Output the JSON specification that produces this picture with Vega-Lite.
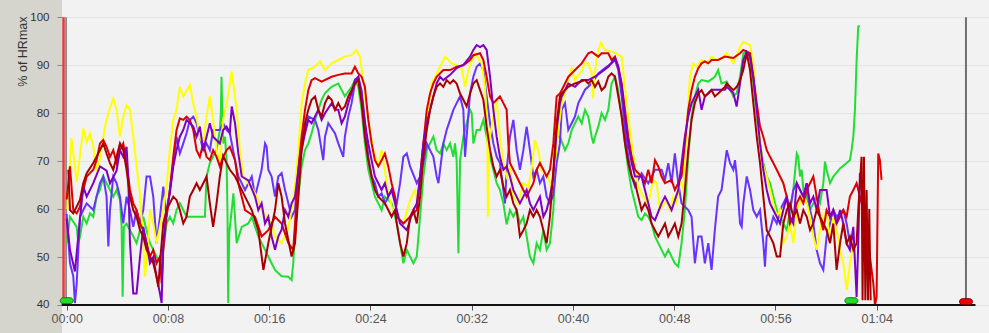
{
"$schema": "https://vega.github.io/schema/vega-lite/v6.json",
"width": 927, "height": 333,
"autosize": {"type": "none"},
"padding": {"left": 62, "top": 0, "right": 0, "bottom": 0},
"background": "#d5d5ce",
"config": {"view": {"fill": "#f2f2f2", "stroke": null}},
"datasets": {"hr": [
{"s":"G","t":0.0,"v":52.9},{"s":"G","t":0.26,"v":58.4},{"s":"G","t":0.79,"v":56.3},{"s":"G","t":0.92,"v":52.9},{"s":"G","t":1.05,"v":54.3},{"s":"G","t":1.31,"v":58.4},{"s":"G","t":1.58,"v":57},{"s":"G","t":1.84,"v":59.1},{"s":"G","t":2.1,"v":58.4},{"s":"G","t":2.36,"v":62.6},{"s":"G","t":2.63,"v":64},{"s":"G","t":2.89,"v":66.8},{"s":"G","t":3.15,"v":65.4},{"s":"G","t":3.42,"v":64},{"s":"G","t":3.68,"v":62.6},{"s":"G","t":3.94,"v":64},{"s":"G","t":4.21,"v":61.9},{"s":"G","t":4.34,"v":56.3},{"s":"G","t":4.42,"v":41.7},{"s":"G","t":4.52,"v":56.3},{"s":"G","t":4.73,"v":57},{"s":"G","t":5.0,"v":55.6},{"s":"G","t":5.26,"v":54.3},{"s":"G","t":5.52,"v":52.9},{"s":"G","t":5.79,"v":55.6},{"s":"G","t":6.05,"v":58.4},{"s":"G","t":6.31,"v":55.6},{"s":"G","t":6.58,"v":52.9},{"s":"G","t":6.84,"v":51.5},{"s":"G","t":7.1,"v":50.1},{"s":"G","t":7.37,"v":48.7},{"s":"G","t":7.63,"v":51.5},{"s":"G","t":7.89,"v":57},{"s":"G","t":8.15,"v":58.4},{"s":"G","t":8.42,"v":57},{"s":"G","t":8.68,"v":59.8},{"s":"G","t":8.94,"v":61.2},{"s":"G","t":9.21,"v":59.8},{"s":"G","t":9.47,"v":58.4},{"s":"G","t":10.92,"v":58.4},{"s":"G","t":11.05,"v":66.8},{"s":"G","t":11.31,"v":69.6},{"s":"G","t":11.57,"v":71},{"s":"G","t":11.84,"v":72.3},{"s":"G","t":12.1,"v":76.5},{"s":"G","t":12.18,"v":80},{"s":"G","t":12.23,"v":87.6},{"s":"G","t":12.31,"v":78},{"s":"G","t":12.36,"v":73.7},{"s":"G","t":12.51,"v":75.1},{"s":"G","t":12.63,"v":70.2},{"s":"G","t":12.7,"v":60},{"s":"G","t":12.76,"v":40.4},{"s":"G","t":12.84,"v":55},{"s":"G","t":13.04,"v":59.8},{"s":"G","t":13.17,"v":63.3},{"s":"G","t":13.43,"v":52.9},{"s":"G","t":13.83,"v":56.3},{"s":"G","t":14.35,"v":57},{"s":"G","t":14.62,"v":58.4},{"s":"G","t":15.14,"v":54.3},{"s":"G","t":15.67,"v":51.5},{"s":"G","t":16.19,"v":48.7},{"s":"G","t":16.46,"v":47.3},{"s":"G","t":16.98,"v":46},{"s":"G","t":17.51,"v":45.9},{"s":"G","t":17.77,"v":45.2},{"s":"G","t":17.9,"v":48.7},{"s":"G","t":18.04,"v":55.6},{"s":"G","t":18.3,"v":62.6},{"s":"G","t":18.56,"v":68.9},{"s":"G","t":18.83,"v":72.3},{"s":"G","t":19.09,"v":73.7},{"s":"G","t":19.35,"v":75.8},{"s":"G","t":19.62,"v":78.6},{"s":"G","t":19.88,"v":80.7},{"s":"G","t":20.14,"v":82.8},{"s":"G","t":20.41,"v":84.2},{"s":"G","t":20.93,"v":85.5},{"s":"G","t":21.46,"v":86.2},{"s":"G","t":21.98,"v":83.5},{"s":"G","t":22.51,"v":85.5},{"s":"G","t":22.77,"v":86.9},{"s":"G","t":23.04,"v":85.5},{"s":"G","t":23.3,"v":80.7},{"s":"G","t":23.56,"v":73.7},{"s":"G","t":23.83,"v":68.2},{"s":"G","t":24.09,"v":65.4},{"s":"G","t":24.35,"v":62.6},{"s":"G","t":24.62,"v":61.2},{"s":"G","t":24.88,"v":59.8},{"s":"G","t":25.14,"v":62.6},{"s":"G","t":25.67,"v":61.2},{"s":"G","t":26.08,"v":57},{"s":"G","t":26.34,"v":52.9},{"s":"G","t":26.6,"v":48.7},{"s":"G","t":26.87,"v":51.5},{"s":"G","t":27.13,"v":50.1},{"s":"G","t":27.39,"v":48.7},{"s":"G","t":27.66,"v":50.1},{"s":"G","t":27.92,"v":58.4},{"s":"G","t":28.18,"v":66.8},{"s":"G","t":28.45,"v":72.3},{"s":"G","t":28.71,"v":73.7},{"s":"G","t":28.97,"v":75.1},{"s":"G","t":29.23,"v":72.3},{"s":"G","t":29.5,"v":71.6},{"s":"G","t":29.76,"v":73.7},{"s":"G","t":30.02,"v":72.3},{"s":"G","t":30.29,"v":73.7},{"s":"G","t":30.55,"v":70.9},{"s":"G","t":30.68,"v":73.7},{"s":"G","t":30.81,"v":70.2},{"s":"G","t":30.95,"v":50.8},{"s":"G","t":31.08,"v":70.2},{"s":"G","t":31.34,"v":75.1},{"s":"G","t":31.6,"v":77.9},{"s":"G","t":31.87,"v":80.7},{"s":"G","t":32.0,"v":80},{"s":"G","t":32.13,"v":73.7},{"s":"G","t":32.39,"v":76.5},{"s":"G","t":32.66,"v":76.5},{"s":"G","t":32.92,"v":78.6},{"s":"G","t":33.18,"v":75.1},{"s":"G","t":33.45,"v":70.9},{"s":"G","t":33.71,"v":68.2},{"s":"G","t":33.97,"v":65.4},{"s":"G","t":34.23,"v":64},{"s":"G","t":34.5,"v":61.2},{"s":"G","t":34.76,"v":56.8},{"s":"G","t":35.02,"v":59.8},{"s":"G","t":35.29,"v":58.4},{"s":"G","t":35.55,"v":59.8},{"s":"G","t":35.81,"v":57},{"s":"G","t":36.08,"v":58.4},{"s":"G","t":36.34,"v":54.3},{"s":"G","t":36.6,"v":50.1},{"s":"G","t":36.87,"v":48.7},{"s":"G","t":37.13,"v":52.9},{"s":"G","t":37.39,"v":51.5},{"s":"G","t":37.66,"v":55.6},{"s":"G","t":37.92,"v":51.5},{"s":"G","t":38.18,"v":52.9},{"s":"G","t":38.45,"v":59.8},{"s":"G","t":38.71,"v":75.1},{"s":"G","t":38.97,"v":75.1},{"s":"G","t":39.37,"v":72.3},{"s":"G","t":39.63,"v":73.7},{"s":"G","t":39.9,"v":76.5},{"s":"G","t":40.16,"v":77.9},{"s":"G","t":40.42,"v":79.3},{"s":"G","t":40.69,"v":77.9},{"s":"G","t":40.95,"v":80.7},{"s":"G","t":41.21,"v":79.3},{"s":"G","t":41.48,"v":75.1},{"s":"G","t":41.61,"v":73.7},{"s":"G","t":41.74,"v":75.1},{"s":"G","t":42.0,"v":77.2},{"s":"G","t":42.26,"v":80},{"s":"G","t":42.53,"v":78.6},{"s":"G","t":42.79,"v":80.7},{"s":"G","t":43.05,"v":86.2},{"s":"G","t":43.32,"v":87.6},{"s":"G","t":43.58,"v":84.8},{"s":"G","t":43.85,"v":79.3},{"s":"G","t":44.11,"v":73.7},{"s":"G","t":44.37,"v":68.2},{"s":"G","t":44.64,"v":64},{"s":"G","t":44.9,"v":61.2},{"s":"G","t":45.16,"v":58.4},{"s":"G","t":45.42,"v":57.7},{"s":"G","t":45.69,"v":59.1},{"s":"G","t":45.95,"v":58.4},{"s":"G","t":46.21,"v":57},{"s":"G","t":46.48,"v":54.3},{"s":"G","t":46.74,"v":52.9},{"s":"G","t":47.0,"v":51.5},{"s":"G","t":47.27,"v":50.1},{"s":"G","t":47.53,"v":51.5},{"s":"G","t":47.79,"v":50.1},{"s":"G","t":48.05,"v":48.7},{"s":"G","t":48.32,"v":48},{"s":"G","t":48.58,"v":52.9},{"s":"G","t":48.84,"v":59.8},{"s":"G","t":49.11,"v":71},{"s":"G","t":49.37,"v":79.3},{"s":"G","t":49.63,"v":83.5},{"s":"G","t":49.9,"v":86.2},{"s":"G","t":50.16,"v":86.9},{"s":"G","t":50.69,"v":86.6},{"s":"G","t":51.21,"v":87.6},{"s":"G","t":51.47,"v":89},{"s":"G","t":51.74,"v":86.2},{"s":"G","t":52.15,"v":86.6},{"s":"G","t":52.67,"v":83.5},{"s":"G","t":52.94,"v":84.2},{"s":"G","t":53.2,"v":87.6},{"s":"G","t":53.46,"v":92.5},{"s":"G","t":53.73,"v":92.8},{"s":"G","t":53.99,"v":91.1},{"s":"G","t":54.25,"v":86.2},{"s":"G","t":54.52,"v":79.3},{"s":"G","t":54.78,"v":73.7},{"s":"G","t":55.04,"v":69.6},{"s":"G","t":55.31,"v":66.8},{"s":"G","t":55.57,"v":65.4},{"s":"G","t":55.83,"v":62.6},{"s":"G","t":56.1,"v":59.8},{"s":"G","t":56.36,"v":58.4},{"s":"G","t":56.62,"v":57},{"s":"G","t":56.89,"v":55.6},{"s":"G","t":57.15,"v":59.8},{"s":"G","t":57.41,"v":64},{"s":"G","t":57.68,"v":71.6},{"s":"G","t":57.8,"v":70.9},{"s":"G","t":57.94,"v":66.8},{"s":"G","t":58.07,"v":68.2},{"s":"G","t":58.2,"v":64},{"s":"G","t":58.47,"v":62.6},{"s":"G","t":58.73,"v":59.8},{"s":"G","t":58.99,"v":61.2},{"s":"G","t":59.25,"v":62.6},{"s":"G","t":59.52,"v":61.2},{"s":"G","t":59.78,"v":65.4},{"s":"G","t":59.91,"v":69.9},{"s":"G","t":60.04,"v":68.2},{"s":"G","t":60.31,"v":65.4},{"s":"G","t":60.57,"v":66.8},{"s":"G","t":61.1,"v":68.5},{"s":"G","t":61.62,"v":69.6},{"s":"G","t":61.88,"v":70.2},{"s":"G","t":62.01,"v":72.3},{"s":"G","t":62.15,"v":75.1},{"s":"G","t":62.28,"v":80.7},{"s":"G","t":62.41,"v":91.1},{"s":"G","t":62.54,"v":98.1},{"s":"G","t":62.67,"v":98.2},
{"s":"B","t":0.0,"v":59},{"s":"B","t":0.26,"v":48.7},{"s":"B","t":0.52,"v":46},{"s":"B","t":0.65,"v":40.4},{"s":"B","t":0.79,"v":44.5},{"s":"B","t":0.92,"v":51.5},{"s":"B","t":1.05,"v":58.4},{"s":"B","t":1.31,"v":59.8},{"s":"B","t":1.58,"v":61.2},{"s":"B","t":2.1,"v":59.8},{"s":"B","t":2.36,"v":62.6},{"s":"B","t":2.63,"v":65.4},{"s":"B","t":2.89,"v":66.8},{"s":"B","t":3.15,"v":62.6},{"s":"B","t":3.29,"v":52.2},{"s":"B","t":3.42,"v":59.8},{"s":"B","t":3.68,"v":66.8},{"s":"B","t":3.94,"v":65.4},{"s":"B","t":4.21,"v":62.6},{"s":"B","t":4.47,"v":57},{"s":"B","t":4.73,"v":62.6},{"s":"B","t":5.0,"v":59.8},{"s":"B","t":5.26,"v":56.3},{"s":"B","t":5.52,"v":59.8},{"s":"B","t":5.79,"v":57},{"s":"B","t":6.05,"v":59.8},{"s":"B","t":6.31,"v":66.8},{"s":"B","t":6.58,"v":66.8},{"s":"B","t":6.84,"v":62.6},{"s":"B","t":7.1,"v":52.9},{"s":"B","t":7.37,"v":58.4},{"s":"B","t":7.63,"v":64.7},{"s":"B","t":7.89,"v":58.4},{"s":"B","t":8.15,"v":64},{"s":"B","t":8.42,"v":69.6},{"s":"B","t":8.68,"v":75.1},{"s":"B","t":8.94,"v":71.6},{"s":"B","t":9.21,"v":73.7},{"s":"B","t":9.47,"v":75.8},{"s":"B","t":9.73,"v":78.6},{"s":"B","t":10.0,"v":79.3},{"s":"B","t":10.26,"v":77.9},{"s":"B","t":10.52,"v":75.1},{"s":"B","t":10.79,"v":72.3},{"s":"B","t":11.05,"v":73.7},{"s":"B","t":11.31,"v":72.3},{"s":"B","t":11.57,"v":76.5},{"s":"B","t":12.1,"v":76.5},{"s":"B","t":12.36,"v":77.9},{"s":"B","t":12.63,"v":76.5},{"s":"B","t":12.89,"v":75.8},{"s":"B","t":13.3,"v":70.2},{"s":"B","t":13.56,"v":66.8},{"s":"B","t":14.09,"v":64},{"s":"B","t":14.62,"v":66.8},{"s":"B","t":14.88,"v":62.6},{"s":"B","t":15.14,"v":65.4},{"s":"B","t":15.4,"v":68.2},{"s":"B","t":15.67,"v":73.7},{"s":"B","t":15.8,"v":73},{"s":"B","t":15.93,"v":68.2},{"s":"B","t":16.19,"v":66.8},{"s":"B","t":16.46,"v":62.6},{"s":"B","t":16.72,"v":66.8},{"s":"B","t":16.98,"v":67.5},{"s":"B","t":17.25,"v":64},{"s":"B","t":17.51,"v":61.2},{"s":"B","t":17.77,"v":58.4},{"s":"B","t":18.04,"v":59.8},{"s":"B","t":18.3,"v":69.6},{"s":"B","t":18.56,"v":73.7},{"s":"B","t":18.83,"v":76.5},{"s":"B","t":19.09,"v":79.3},{"s":"B","t":19.62,"v":78.6},{"s":"B","t":19.88,"v":76.5},{"s":"B","t":20.14,"v":72.3},{"s":"B","t":20.27,"v":70.2},{"s":"B","t":20.41,"v":75.1},{"s":"B","t":20.67,"v":77.9},{"s":"B","t":21.2,"v":75.8},{"s":"B","t":21.46,"v":73.7},{"s":"B","t":21.85,"v":70.9},{"s":"B","t":21.98,"v":75.1},{"s":"B","t":22.25,"v":79.3},{"s":"B","t":22.51,"v":82.1},{"s":"B","t":22.77,"v":86.2},{"s":"B","t":23.04,"v":87.6},{"s":"B","t":23.3,"v":84.8},{"s":"B","t":23.56,"v":78.6},{"s":"B","t":23.83,"v":70.9},{"s":"B","t":24.09,"v":66.8},{"s":"B","t":24.35,"v":65.4},{"s":"B","t":24.62,"v":62.6},{"s":"B","t":24.88,"v":63.3},{"s":"B","t":25.14,"v":61.2},{"s":"B","t":25.67,"v":64},{"s":"B","t":26.08,"v":61.2},{"s":"B","t":26.34,"v":65.4},{"s":"B","t":26.6,"v":70.9},{"s":"B","t":26.87,"v":71.6},{"s":"B","t":27.13,"v":68.9},{"s":"B","t":27.66,"v":65.4},{"s":"B","t":27.92,"v":66.8},{"s":"B","t":28.18,"v":69.6},{"s":"B","t":28.45,"v":73.7},{"s":"B","t":28.71,"v":72.3},{"s":"B","t":28.97,"v":70.9},{"s":"B","t":29.23,"v":66.8},{"s":"B","t":29.37,"v":65.4},{"s":"B","t":29.5,"v":68.2},{"s":"B","t":29.76,"v":73.7},{"s":"B","t":30.02,"v":76.5},{"s":"B","t":30.29,"v":78.6},{"s":"B","t":30.55,"v":80.7},{"s":"B","t":30.81,"v":82.1},{"s":"B","t":31.08,"v":83.5},{"s":"B","t":31.34,"v":80.7},{"s":"B","t":31.47,"v":70.9},{"s":"B","t":31.6,"v":75.1},{"s":"B","t":31.87,"v":84.2},{"s":"B","t":32.13,"v":87.6},{"s":"B","t":32.39,"v":89.7},{"s":"B","t":32.66,"v":90.4},{"s":"B","t":32.92,"v":89},{"s":"B","t":33.18,"v":83.5},{"s":"B","t":33.45,"v":77.9},{"s":"B","t":33.71,"v":73.7},{"s":"B","t":33.97,"v":70.9},{"s":"B","t":34.23,"v":69.6},{"s":"B","t":34.5,"v":64},{"s":"B","t":34.63,"v":61.2},{"s":"B","t":34.76,"v":68.2},{"s":"B","t":35.02,"v":75.1},{"s":"B","t":35.29,"v":78.6},{"s":"B","t":35.55,"v":72.3},{"s":"B","t":35.81,"v":68.2},{"s":"B","t":36.08,"v":72.3},{"s":"B","t":36.34,"v":77.2},{"s":"B","t":36.6,"v":72.3},{"s":"B","t":36.87,"v":66.8},{"s":"B","t":37.13,"v":68.2},{"s":"B","t":37.39,"v":65.4},{"s":"B","t":37.66,"v":66.8},{"s":"B","t":37.92,"v":62.6},{"s":"B","t":38.18,"v":61.2},{"s":"B","t":38.45,"v":63},{"s":"B","t":38.71,"v":69.6},{"s":"B","t":38.97,"v":73.7},{"s":"B","t":39.11,"v":80.7},{"s":"B","t":39.37,"v":82.1},{"s":"B","t":39.63,"v":76.5},{"s":"B","t":39.9,"v":77.9},{"s":"B","t":40.16,"v":79.3},{"s":"B","t":40.42,"v":82.1},{"s":"B","t":40.69,"v":83.5},{"s":"B","t":40.95,"v":84.9},{"s":"B","t":41.48,"v":86.2},{"s":"B","t":42.0,"v":88.3},{"s":"B","t":42.53,"v":89.4},{"s":"B","t":43.05,"v":90.4},{"s":"B","t":43.32,"v":91.1},{"s":"B","t":43.58,"v":89},{"s":"B","t":43.85,"v":83.5},{"s":"B","t":44.11,"v":76.5},{"s":"B","t":44.37,"v":70.9},{"s":"B","t":44.64,"v":66.8},{"s":"B","t":44.9,"v":64.7},{"s":"B","t":45.42,"v":67.5},{"s":"B","t":45.95,"v":65.4},{"s":"B","t":46.48,"v":68.2},{"s":"B","t":47.0,"v":68.2},{"s":"B","t":47.27,"v":66.1},{"s":"B","t":47.53,"v":69.6},{"s":"B","t":47.79,"v":65.4},{"s":"B","t":48.05,"v":71.6},{"s":"B","t":48.32,"v":65.4},{"s":"B","t":48.58,"v":61.2},{"s":"B","t":49.11,"v":59.8},{"s":"B","t":49.37,"v":58.4},{"s":"B","t":49.63,"v":48.7},{"s":"B","t":49.9,"v":54.3},{"s":"B","t":50.16,"v":54.3},{"s":"B","t":50.42,"v":48.7},{"s":"B","t":50.69,"v":52.9},{"s":"B","t":50.95,"v":47.3},{"s":"B","t":51.21,"v":55.7},{"s":"B","t":51.47,"v":62.6},{"s":"B","t":51.74,"v":64},{"s":"B","t":51.88,"v":66.8},{"s":"B","t":52.15,"v":72.3},{"s":"B","t":52.41,"v":69.6},{"s":"B","t":52.67,"v":68.2},{"s":"B","t":52.8,"v":70.2},{"s":"B","t":52.94,"v":66.8},{"s":"B","t":53.2,"v":57},{"s":"B","t":53.33,"v":56.3},{"s":"B","t":53.46,"v":61.2},{"s":"B","t":53.73,"v":66.8},{"s":"B","t":53.99,"v":64},{"s":"B","t":54.25,"v":59.8},{"s":"B","t":54.52,"v":58.4},{"s":"B","t":54.78,"v":59.8},{"s":"B","t":55.04,"v":52.9},{"s":"B","t":55.17,"v":48},{"s":"B","t":55.3,"v":54.3},{"s":"B","t":55.57,"v":55.7},{"s":"B","t":55.83,"v":58.4},{"s":"B","t":56.1,"v":57},{"s":"B","t":56.36,"v":59.8},{"s":"B","t":56.62,"v":61.2},{"s":"B","t":56.89,"v":62.6},{"s":"B","t":57.15,"v":59.8},{"s":"B","t":57.41,"v":64},{"s":"B","t":57.68,"v":65.4},{"s":"B","t":57.94,"v":64},{"s":"B","t":58.2,"v":62.6},{"s":"B","t":58.47,"v":65.4},{"s":"B","t":58.73,"v":59.8},{"s":"B","t":58.99,"v":57},{"s":"B","t":59.25,"v":51.5},{"s":"B","t":59.52,"v":48.7},{"s":"B","t":59.78,"v":47.3},{"s":"B","t":60.04,"v":54.3},{"s":"B","t":60.31,"v":57},{"s":"B","t":60.57,"v":59.8},{"s":"B","t":60.83,"v":58.4},{"s":"B","t":61.36,"v":59.8},{"s":"B","t":61.62,"v":57},{"s":"B","t":61.88,"v":52.9},{"s":"B","t":62.15,"v":54.3},
{"s":"Y","t":0.05,"v":60},{"s":"Y","t":0.13,"v":64.7},{"s":"Y","t":0.39,"v":74.8},{"s":"Y","t":0.79,"v":65.7},{"s":"Y","t":1.31,"v":76.8},{"s":"Y","t":1.58,"v":74},{"s":"Y","t":1.84,"v":75.8},{"s":"Y","t":2.1,"v":73},{"s":"Y","t":2.36,"v":68},{"s":"Y","t":2.63,"v":70.6},{"s":"Y","t":3.02,"v":77.2},{"s":"Y","t":3.29,"v":80},{"s":"Y","t":3.68,"v":83.1},{"s":"Y","t":3.94,"v":80.7},{"s":"Y","t":4.21,"v":75.1},{"s":"Y","t":4.47,"v":79.3},{"s":"Y","t":4.73,"v":81.7},{"s":"Y","t":5.0,"v":80.7},{"s":"Y","t":5.26,"v":75.1},{"s":"Y","t":5.52,"v":68.9},{"s":"Y","t":5.79,"v":63.3},{"s":"Y","t":6.05,"v":52.9},{"s":"Y","t":6.18,"v":45.9},{"s":"Y","t":6.44,"v":52.9},{"s":"Y","t":6.58,"v":59.8},{"s":"Y","t":6.84,"v":57},{"s":"Y","t":7.1,"v":52.9},{"s":"Y","t":7.37,"v":56.3},{"s":"Y","t":7.63,"v":59.8},{"s":"Y","t":7.89,"v":64.7},{"s":"Y","t":8.15,"v":72.3},{"s":"Y","t":8.42,"v":78.6},{"s":"Y","t":8.68,"v":80.7},{"s":"Y","t":8.94,"v":85.5},{"s":"Y","t":9.21,"v":83.5},{"s":"Y","t":9.73,"v":85.9},{"s":"Y","t":10.0,"v":82},{"s":"Y","t":10.26,"v":79.3},{"s":"Y","t":10.52,"v":75},{"s":"Y","t":10.79,"v":73.5},{"s":"Y","t":11.05,"v":79.3},{"s":"Y","t":11.31,"v":83.5},{"s":"Y","t":11.57,"v":78.6},{"s":"Y","t":11.84,"v":72.3},{"s":"Y","t":12.1,"v":70},{"s":"Y","t":12.36,"v":78.6},{"s":"Y","t":12.63,"v":82},{"s":"Y","t":12.89,"v":86},{"s":"Y","t":13.04,"v":88.7},{"s":"Y","t":13.43,"v":80.7},{"s":"Y","t":13.69,"v":72.3},{"s":"Y","t":13.96,"v":66.8},{"s":"Y","t":14.75,"v":64},{"s":"Y","t":15.14,"v":61.9},{"s":"Y","t":15.4,"v":59.8},{"s":"Y","t":16.19,"v":57},{"s":"Y","t":16.46,"v":54.3},{"s":"Y","t":16.98,"v":52.9},{"s":"Y","t":17.51,"v":56},{"s":"Y","t":17.77,"v":59.8},{"s":"Y","t":18.04,"v":64.7},{"s":"Y","t":18.3,"v":72.3},{"s":"Y","t":18.56,"v":82},{"s":"Y","t":18.83,"v":86.2},{"s":"Y","t":19.09,"v":89},{"s":"Y","t":19.62,"v":89.7},{"s":"Y","t":20.01,"v":90.8},{"s":"Y","t":20.41,"v":89},{"s":"Y","t":20.93,"v":90.4},{"s":"Y","t":21.46,"v":91.1},{"s":"Y","t":21.98,"v":91.8},{"s":"Y","t":22.51,"v":92.1},{"s":"Y","t":22.9,"v":93.2},{"s":"Y","t":23.17,"v":91.8},{"s":"Y","t":23.43,"v":86.9},{"s":"Y","t":23.69,"v":80.7},{"s":"Y","t":23.96,"v":76.5},{"s":"Y","t":24.22,"v":72.3},{"s":"Y","t":24.62,"v":68.9},{"s":"Y","t":24.88,"v":72.3},{"s":"Y","t":25.14,"v":68},{"s":"Y","t":25.41,"v":63.3},{"s":"Y","t":25.67,"v":60.5},{"s":"Y","t":26.1,"v":58.5},{"s":"Y","t":26.6,"v":57},{"s":"Y","t":27.13,"v":61.9},{"s":"Y","t":27.52,"v":64},{"s":"Y","t":27.79,"v":59.8},{"s":"Y","t":28.05,"v":68},{"s":"Y","t":28.31,"v":75.8},{"s":"Y","t":28.58,"v":81.4},{"s":"Y","t":28.84,"v":86.2},{"s":"Y","t":29.23,"v":88.3},{"s":"Y","t":29.89,"v":91.8},{"s":"Y","t":30.42,"v":90.4},{"s":"Y","t":30.81,"v":90},{"s":"Y","t":31.21,"v":89.4},{"s":"Y","t":31.47,"v":85.5},{"s":"Y","t":31.73,"v":89},{"s":"Y","t":32.0,"v":90.8},{"s":"Y","t":32.26,"v":92.5},{"s":"Y","t":32.79,"v":90.4},{"s":"Y","t":33.05,"v":85.5},{"s":"Y","t":33.23,"v":77.2},{"s":"Y","t":33.28,"v":58.4},{"s":"Y","t":33.35,"v":73.7},{"s":"Y","t":33.71,"v":79.3},{"s":"Y","t":33.97,"v":82.8},{"s":"Y","t":34.23,"v":75.1},{"s":"Y","t":34.5,"v":69.6},{"s":"Y","t":34.76,"v":66.8},{"s":"Y","t":35.02,"v":68.9},{"s":"Y","t":35.29,"v":62.6},{"s":"Y","t":35.68,"v":61.2},{"s":"Y","t":36.08,"v":65.4},{"s":"Y","t":36.47,"v":64.7},{"s":"Y","t":36.73,"v":68.2},{"s":"Y","t":36.99,"v":74.4},{"s":"Y","t":37.26,"v":72.3},{"s":"Y","t":37.52,"v":68.2},{"s":"Y","t":38.05,"v":66.8},{"s":"Y","t":38.31,"v":64},{"s":"Y","t":38.58,"v":70},{"s":"Y","t":38.84,"v":76.5},{"s":"Y","t":39.11,"v":82},{"s":"Y","t":39.5,"v":85.5},{"s":"Y","t":39.9,"v":89.4},{"s":"Y","t":40.16,"v":86.9},{"s":"Y","t":40.69,"v":88.9},{"s":"Y","t":40.95,"v":90.4},{"s":"Y","t":41.21,"v":90.4},{"s":"Y","t":41.48,"v":88.3},{"s":"Y","t":41.58,"v":83.1},{"s":"Y","t":41.68,"v":88},{"s":"Y","t":42.0,"v":93.2},{"s":"Y","t":42.21,"v":94.7},{"s":"Y","t":42.53,"v":93.2},{"s":"Y","t":43.19,"v":92.8},{"s":"Y","t":43.85,"v":91.8},{"s":"Y","t":44.11,"v":85.5},{"s":"Y","t":44.37,"v":79.3},{"s":"Y","t":44.64,"v":73.7},{"s":"Y","t":44.9,"v":68.9},{"s":"Y","t":45.16,"v":64.7},{"s":"Y","t":45.56,"v":62.6},{"s":"Y","t":45.95,"v":61.2},{"s":"Y","t":46.34,"v":66.1},{"s":"Y","t":46.61,"v":65.4},{"s":"Y","t":46.87,"v":59.8},{"s":"Y","t":47.4,"v":61.9},{"s":"Y","t":47.66,"v":59.8},{"s":"Y","t":47.92,"v":62.6},{"s":"Y","t":48.19,"v":61.2},{"s":"Y","t":48.45,"v":66.1},{"s":"Y","t":48.71,"v":64},{"s":"Y","t":48.98,"v":76.5},{"s":"Y","t":49.24,"v":87.6},{"s":"Y","t":49.5,"v":90.4},{"s":"Y","t":49.77,"v":89.7},{"s":"Y","t":50.17,"v":91.1},{"s":"Y","t":50.56,"v":90.4},{"s":"Y","t":50.96,"v":91.8},{"s":"Y","t":51.35,"v":91.1},{"s":"Y","t":51.75,"v":91.5},{"s":"Y","t":52.15,"v":92.5},{"s":"Y","t":52.67,"v":90.4},{"s":"Y","t":53.2,"v":93.9},{"s":"Y","t":53.46,"v":94.9},{"s":"Y","t":53.99,"v":94.2},{"s":"Y","t":54.25,"v":90.4},{"s":"Y","t":54.52,"v":80.7},{"s":"Y","t":54.78,"v":73.7},{"s":"Y","t":55.04,"v":68.9},{"s":"Y","t":55.31,"v":66.8},{"s":"Y","t":55.57,"v":64},{"s":"Y","t":55.83,"v":61.2},{"s":"Y","t":56.1,"v":58.4},{"s":"Y","t":56.36,"v":59.8},{"s":"Y","t":56.62,"v":52.9},{"s":"Y","t":56.89,"v":54.3},{"s":"Y","t":57.15,"v":57},{"s":"Y","t":57.41,"v":52.9},{"s":"Y","t":57.68,"v":59.8},{"s":"Y","t":57.94,"v":61.2},{"s":"Y","t":58.2,"v":62.6},{"s":"Y","t":58.47,"v":61.2},{"s":"Y","t":58.73,"v":58.4},{"s":"Y","t":58.99,"v":54.3},{"s":"Y","t":59.26,"v":51.5},{"s":"Y","t":59.52,"v":55.7},{"s":"Y","t":59.78,"v":58.4},{"s":"Y","t":60.05,"v":59.8},{"s":"Y","t":60.31,"v":52.9},{"s":"Y","t":60.57,"v":58.4},{"s":"Y","t":60.84,"v":55.7},{"s":"Y","t":61.1,"v":51.5},{"s":"Y","t":61.36,"v":48.7},{"s":"Y","t":61.63,"v":43.1},{"s":"Y","t":61.89,"v":48.7},{"s":"Y","t":62.15,"v":52.9},
{"s":"R1","t":0.0,"v":62},{"s":"R1","t":0.26,"v":68.9},{"s":"R1","t":0.52,"v":59.8},{"s":"R1","t":0.79,"v":59.1},{"s":"R1","t":1.05,"v":60.5},{"s":"R1","t":1.31,"v":64},{"s":"R1","t":1.58,"v":66.8},{"s":"R1","t":1.84,"v":67.5},{"s":"R1","t":2.1,"v":68.2},{"s":"R1","t":2.36,"v":70.2},{"s":"R1","t":2.63,"v":73.7},{"s":"R1","t":2.89,"v":74.4},{"s":"R1","t":3.15,"v":73},{"s":"R1","t":3.42,"v":70.9},{"s":"R1","t":3.68,"v":72.3},{"s":"R1","t":3.94,"v":69.6},{"s":"R1","t":4.21,"v":72.3},{"s":"R1","t":4.47,"v":73.7},{"s":"R1","t":4.73,"v":69.6},{"s":"R1","t":5.0,"v":64},{"s":"R1","t":5.26,"v":61.2},{"s":"R1","t":5.52,"v":59.8},{"s":"R1","t":5.79,"v":57},{"s":"R1","t":6.05,"v":55.6},{"s":"R1","t":6.31,"v":52.9},{"s":"R1","t":6.58,"v":50.1},{"s":"R1","t":6.84,"v":51.5},{"s":"R1","t":7.1,"v":48.7},{"s":"R1","t":7.37,"v":50.1},{"s":"R1","t":7.5,"v":44.5},{"s":"R1","t":7.63,"v":51.5},{"s":"R1","t":7.89,"v":58.4},{"s":"R1","t":8.15,"v":64},{"s":"R1","t":8.42,"v":70.9},{"s":"R1","t":8.68,"v":76.5},{"s":"R1","t":8.94,"v":78.9},{"s":"R1","t":9.21,"v":78.6},{"s":"R1","t":9.47,"v":79.3},{"s":"R1","t":9.73,"v":78.6},{"s":"R1","t":10.0,"v":76.5},{"s":"R1","t":10.26,"v":72.3},{"s":"R1","t":10.52,"v":70.9},{"s":"R1","t":10.79,"v":73.7},{"s":"R1","t":11.05,"v":70.9},{"s":"R1","t":11.31,"v":70.2},{"s":"R1","t":11.57,"v":72.3},{"s":"R1","t":11.84,"v":70.9},{"s":"R1","t":12.1,"v":68.9},{"s":"R1","t":12.36,"v":70.9},{"s":"R1","t":12.63,"v":72.3},{"s":"R1","t":12.89,"v":73},{"s":"R1","t":13.3,"v":70.2},{"s":"R1","t":13.56,"v":65.4},{"s":"R1","t":14.09,"v":59.8},{"s":"R1","t":14.88,"v":58.4},{"s":"R1","t":15.4,"v":54.3},{"s":"R1","t":15.93,"v":55.6},{"s":"R1","t":16.46,"v":58.4},{"s":"R1","t":16.98,"v":57},{"s":"R1","t":17.51,"v":52.9},{"s":"R1","t":17.9,"v":51.5},{"s":"R1","t":18.04,"v":57},{"s":"R1","t":18.3,"v":68.2},{"s":"R1","t":18.56,"v":75.1},{"s":"R1","t":18.83,"v":80.7},{"s":"R1","t":19.09,"v":84.8},{"s":"R1","t":19.35,"v":86.9},{"s":"R1","t":19.62,"v":87.3},{"s":"R1","t":20.14,"v":86.6},{"s":"R1","t":20.93,"v":87.6},{"s":"R1","t":21.46,"v":88},{"s":"R1","t":21.98,"v":88.3},{"s":"R1","t":22.51,"v":88.3},{"s":"R1","t":22.77,"v":89.7},{"s":"R1","t":23.04,"v":88.3},{"s":"R1","t":23.3,"v":87.6},{"s":"R1","t":23.56,"v":85.5},{"s":"R1","t":23.83,"v":78.6},{"s":"R1","t":24.09,"v":73.7},{"s":"R1","t":24.35,"v":70.2},{"s":"R1","t":24.62,"v":68.9},{"s":"R1","t":24.88,"v":70.2},{"s":"R1","t":25.14,"v":71.6},{"s":"R1","t":25.41,"v":68.9},{"s":"R1","t":25.67,"v":65.4},{"s":"R1","t":25.94,"v":62.6},{"s":"R1","t":26.08,"v":58.4},{"s":"R1","t":26.6,"v":57},{"s":"R1","t":27.13,"v":58.4},{"s":"R1","t":27.66,"v":59.8},{"s":"R1","t":27.92,"v":66.8},{"s":"R1","t":28.18,"v":73.7},{"s":"R1","t":28.45,"v":80.7},{"s":"R1","t":28.71,"v":84.1},{"s":"R1","t":28.97,"v":86.2},{"s":"R1","t":29.23,"v":87.6},{"s":"R1","t":29.76,"v":89},{"s":"R1","t":30.29,"v":89},{"s":"R1","t":30.81,"v":89.7},{"s":"R1","t":31.34,"v":90},{"s":"R1","t":31.87,"v":91.1},{"s":"R1","t":32.13,"v":92.1},{"s":"R1","t":32.66,"v":92.5},{"s":"R1","t":32.92,"v":91.1},{"s":"R1","t":33.18,"v":87.6},{"s":"R1","t":33.45,"v":83.5},{"s":"R1","t":33.71,"v":82.1},{"s":"R1","t":33.97,"v":82.8},{"s":"R1","t":34.23,"v":83.5},{"s":"R1","t":34.5,"v":82.1},{"s":"R1","t":34.76,"v":80.7},{"s":"R1","t":34.89,"v":73.7},{"s":"R1","t":35.02,"v":69.6},{"s":"R1","t":35.29,"v":68.2},{"s":"R1","t":35.55,"v":66.8},{"s":"R1","t":35.81,"v":65.4},{"s":"R1","t":36.08,"v":64},{"s":"R1","t":36.34,"v":62.6},{"s":"R1","t":36.6,"v":64},{"s":"R1","t":36.87,"v":65.4},{"s":"R1","t":37.13,"v":68.2},{"s":"R1","t":37.39,"v":69.6},{"s":"R1","t":37.66,"v":68.2},{"s":"R1","t":37.92,"v":66.8},{"s":"R1","t":38.18,"v":68.2},{"s":"R1","t":38.45,"v":73.7},{"s":"R1","t":38.71,"v":83.5},{"s":"R1","t":38.97,"v":84.1},{"s":"R1","t":39.11,"v":84.8},{"s":"R1","t":39.63,"v":87.6},{"s":"R1","t":40.16,"v":89},{"s":"R1","t":40.69,"v":90.4},{"s":"R1","t":41.21,"v":92.5},{"s":"R1","t":41.48,"v":92.8},{"s":"R1","t":42.0,"v":91.8},{"s":"R1","t":42.26,"v":92.5},{"s":"R1","t":42.79,"v":92.5},{"s":"R1","t":43.05,"v":91.1},{"s":"R1","t":43.32,"v":91.8},{"s":"R1","t":43.58,"v":89.7},{"s":"R1","t":43.85,"v":86.2},{"s":"R1","t":44.11,"v":80.7},{"s":"R1","t":44.37,"v":75.1},{"s":"R1","t":44.64,"v":70.9},{"s":"R1","t":44.9,"v":68.2},{"s":"R1","t":45.42,"v":66.8},{"s":"R1","t":45.69,"v":65.4},{"s":"R1","t":45.95,"v":68.2},{"s":"R1","t":46.21,"v":65.4},{"s":"R1","t":46.48,"v":70.2},{"s":"R1","t":46.74,"v":68.9},{"s":"R1","t":47.0,"v":66.8},{"s":"R1","t":47.27,"v":65.4},{"s":"R1","t":47.79,"v":66.1},{"s":"R1","t":48.05,"v":64},{"s":"R1","t":48.32,"v":65.4},{"s":"R1","t":48.58,"v":66.8},{"s":"R1","t":48.84,"v":73.7},{"s":"R1","t":49.11,"v":80.7},{"s":"R1","t":49.37,"v":84.8},{"s":"R1","t":49.63,"v":87.6},{"s":"R1","t":49.9,"v":89.4},{"s":"R1","t":50.16,"v":90.4},{"s":"R1","t":50.42,"v":90.8},{"s":"R1","t":50.69,"v":90.4},{"s":"R1","t":50.95,"v":91.1},{"s":"R1","t":51.47,"v":91.1},{"s":"R1","t":52.0,"v":91.8},{"s":"R1","t":52.67,"v":91.5},{"s":"R1","t":53.2,"v":92.5},{"s":"R1","t":53.46,"v":93.2},{"s":"R1","t":53.99,"v":92.5},{"s":"R1","t":54.25,"v":87.6},{"s":"R1","t":54.52,"v":82.1},{"s":"R1","t":54.78,"v":77.2},{"s":"R1","t":55.04,"v":75.1},{"s":"R1","t":55.31,"v":72.3},{"s":"R1","t":55.57,"v":70.9},{"s":"R1","t":55.83,"v":69.6},{"s":"R1","t":56.1,"v":68.2},{"s":"R1","t":56.36,"v":66.8},{"s":"R1","t":56.62,"v":65.4},{"s":"R1","t":56.89,"v":62.6},{"s":"R1","t":57.15,"v":57},{"s":"R1","t":57.41,"v":58.4},{"s":"R1","t":57.68,"v":61.2},{"s":"R1","t":57.94,"v":62.6},{"s":"R1","t":58.2,"v":61.2},{"s":"R1","t":58.47,"v":64},{"s":"R1","t":58.73,"v":65.4},{"s":"R1","t":58.99,"v":66.8},{"s":"R1","t":59.25,"v":62.6},{"s":"R1","t":59.52,"v":58.4},{"s":"R1","t":59.78,"v":55.6},{"s":"R1","t":60.04,"v":59.8},{"s":"R1","t":60.31,"v":58.4},{"s":"R1","t":60.57,"v":59.8},{"s":"R1","t":60.83,"v":57},{"s":"R1","t":61.1,"v":58.4},{"s":"R1","t":61.36,"v":59.8},{"s":"R1","t":61.62,"v":58.4},{"s":"R1","t":61.88,"v":62.6},{"s":"R1","t":62.15,"v":64},{"s":"R1","t":62.41,"v":65.4},{"s":"R1","t":62.67,"v":62.6},{"s":"R1","t":62.94,"v":59.8},{"s":"R1","t":63.2,"v":55.6},{"s":"R1","t":63.46,"v":50.1},{"s":"R1","t":63.73,"v":44.5},{"s":"R1","t":63.86,"v":40},{"s":"R1","t":63.99,"v":41.7},{"s":"R1","t":64.12,"v":71.6},{"s":"R1","t":64.25,"v":70.2},{"s":"R1","t":64.38,"v":66.1},
{"s":"P","t":0.0,"v":58},{"s":"P","t":0.26,"v":51.5},{"s":"P","t":0.65,"v":47},{"s":"P","t":1.05,"v":58},{"s":"P","t":1.31,"v":64.7},{"s":"P","t":1.58,"v":62.6},{"s":"P","t":2.1,"v":65.4},{"s":"P","t":2.63,"v":68.9},{"s":"P","t":3.15,"v":68},{"s":"P","t":3.42,"v":65.4},{"s":"P","t":3.94,"v":68},{"s":"P","t":4.21,"v":72.3},{"s":"P","t":4.47,"v":70.9},{"s":"P","t":4.73,"v":73},{"s":"P","t":4.86,"v":66.8},{"s":"P","t":5.0,"v":52.9},{"s":"P","t":5.26,"v":42.4},{"s":"P","t":5.52,"v":42.4},{"s":"P","t":5.79,"v":50},{"s":"P","t":6.05,"v":56.3},{"s":"P","t":6.31,"v":52.9},{"s":"P","t":6.58,"v":48.7},{"s":"P","t":6.84,"v":50},{"s":"P","t":7.1,"v":45.9},{"s":"P","t":7.37,"v":42.4},{"s":"P","t":7.5,"v":40.4},{"s":"P","t":7.63,"v":52.9},{"s":"P","t":7.89,"v":59.8},{"s":"P","t":8.15,"v":63.3},{"s":"P","t":8.42,"v":68.9},{"s":"P","t":8.68,"v":72.3},{"s":"P","t":8.94,"v":75.1},{"s":"P","t":9.21,"v":76.5},{"s":"P","t":9.47,"v":78.6},{"s":"P","t":10.0,"v":77.2},{"s":"P","t":10.26,"v":75.1},{"s":"P","t":10.52,"v":77.2},{"s":"P","t":10.79,"v":72.3},{"s":"P","t":11.05,"v":75.1},{"s":"P","t":11.31,"v":77.9},{"s":"P","t":11.57,"v":75.1},{"s":"P","t":12.1,"v":73.7},{"s":"P","t":12.36,"v":76.5},{"s":"P","t":12.63,"v":77.2},{"s":"P","t":12.89,"v":76},{"s":"P","t":13.04,"v":81.4},{"s":"P","t":13.3,"v":77.9},{"s":"P","t":13.56,"v":71.6},{"s":"P","t":13.83,"v":66.8},{"s":"P","t":14.35,"v":66},{"s":"P","t":14.88,"v":62.6},{"s":"P","t":15.14,"v":59.8},{"s":"P","t":15.4,"v":61.2},{"s":"P","t":15.67,"v":57},{"s":"P","t":15.93,"v":58.4},{"s":"P","t":16.19,"v":54.3},{"s":"P","t":16.46,"v":51.5},{"s":"P","t":16.72,"v":54.3},{"s":"P","t":16.98,"v":55.7},{"s":"P","t":17.25,"v":59.8},{"s":"P","t":17.51,"v":58.4},{"s":"P","t":17.77,"v":61.2},{"s":"P","t":18.04,"v":62.6},{"s":"P","t":18.3,"v":68.2},{"s":"P","t":18.56,"v":72.3},{"s":"P","t":18.83,"v":75.8},{"s":"P","t":19.09,"v":78.6},{"s":"P","t":19.35,"v":77.9},{"s":"P","t":19.62,"v":79.3},{"s":"P","t":19.88,"v":80.7},{"s":"P","t":20.14,"v":78.6},{"s":"P","t":20.41,"v":80},{"s":"P","t":20.93,"v":82.1},{"s":"P","t":21.2,"v":80.7},{"s":"P","t":21.46,"v":80.7},{"s":"P","t":21.72,"v":77.9},{"s":"P","t":21.98,"v":79.3},{"s":"P","t":22.25,"v":82.1},{"s":"P","t":22.51,"v":84.2},{"s":"P","t":22.77,"v":86.9},{"s":"P","t":23.04,"v":87.6},{"s":"P","t":23.3,"v":83.5},{"s":"P","t":23.56,"v":77.9},{"s":"P","t":23.83,"v":73.7},{"s":"P","t":24.09,"v":70.2},{"s":"P","t":24.35,"v":66.8},{"s":"P","t":24.62,"v":65.4},{"s":"P","t":24.88,"v":64},{"s":"P","t":25.14,"v":65.4},{"s":"P","t":25.41,"v":62.6},{"s":"P","t":25.67,"v":64},{"s":"P","t":26.08,"v":59.8},{"s":"P","t":26.34,"v":57},{"s":"P","t":26.87,"v":55.6},{"s":"P","t":27.39,"v":59.8},{"s":"P","t":27.66,"v":61.2},{"s":"P","t":27.92,"v":66.8},{"s":"P","t":28.18,"v":73.7},{"s":"P","t":28.45,"v":77.9},{"s":"P","t":28.71,"v":80.7},{"s":"P","t":28.97,"v":83.5},{"s":"P","t":29.23,"v":86.2},{"s":"P","t":29.5,"v":87.6},{"s":"P","t":29.76,"v":86.9},{"s":"P","t":30.29,"v":88},{"s":"P","t":30.81,"v":89.4},{"s":"P","t":31.34,"v":90.1},{"s":"P","t":31.87,"v":91.8},{"s":"P","t":32.13,"v":93.2},{"s":"P","t":32.39,"v":94.2},{"s":"P","t":32.66,"v":93.8},{"s":"P","t":32.92,"v":94.2},{"s":"P","t":33.18,"v":93.2},{"s":"P","t":33.45,"v":87.6},{"s":"P","t":33.71,"v":80.7},{"s":"P","t":33.97,"v":75.1},{"s":"P","t":34.23,"v":70.9},{"s":"P","t":34.5,"v":68.2},{"s":"P","t":34.76,"v":68.9},{"s":"P","t":35.02,"v":66.8},{"s":"P","t":35.29,"v":64},{"s":"P","t":35.55,"v":62.6},{"s":"P","t":35.81,"v":61.2},{"s":"P","t":36.08,"v":62.6},{"s":"P","t":36.34,"v":64},{"s":"P","t":36.6,"v":61.2},{"s":"P","t":36.87,"v":59.8},{"s":"P","t":37.13,"v":61.2},{"s":"P","t":37.39,"v":62.6},{"s":"P","t":37.66,"v":58.4},{"s":"P","t":37.92,"v":59.8},{"s":"P","t":38.18,"v":62.6},{"s":"P","t":38.45,"v":66.8},{"s":"P","t":38.71,"v":76.5},{"s":"P","t":38.97,"v":82},{"s":"P","t":39.11,"v":83.5},{"s":"P","t":39.63,"v":86.2},{"s":"P","t":40.16,"v":85.5},{"s":"P","t":40.69,"v":86.9},{"s":"P","t":41.21,"v":86.9},{"s":"P","t":41.74,"v":87.6},{"s":"P","t":42.26,"v":88.6},{"s":"P","t":42.79,"v":89.7},{"s":"P","t":43.32,"v":91.4},{"s":"P","t":43.58,"v":89.7},{"s":"P","t":43.85,"v":85.5},{"s":"P","t":44.11,"v":79.3},{"s":"P","t":44.37,"v":73.7},{"s":"P","t":44.64,"v":69.6},{"s":"P","t":44.9,"v":66.8},{"s":"P","t":45.42,"v":66.8},{"s":"P","t":45.95,"v":61.2},{"s":"P","t":46.21,"v":58.4},{"s":"P","t":46.48,"v":57.7},{"s":"P","t":47.0,"v":61.2},{"s":"P","t":47.27,"v":62.6},{"s":"P","t":47.79,"v":59.8},{"s":"P","t":48.32,"v":64},{"s":"P","t":48.58,"v":69.6},{"s":"P","t":48.84,"v":75.1},{"s":"P","t":49.11,"v":79.3},{"s":"P","t":49.37,"v":82.1},{"s":"P","t":49.63,"v":83.5},{"s":"P","t":49.9,"v":84.9},{"s":"P","t":50.16,"v":80.7},{"s":"P","t":50.42,"v":83.5},{"s":"P","t":50.95,"v":84.9},{"s":"P","t":51.47,"v":84.9},{"s":"P","t":52.0,"v":84.9},{"s":"P","t":52.15,"v":85.5},{"s":"P","t":52.67,"v":84.2},{"s":"P","t":52.93,"v":81.4},{"s":"P","t":53.2,"v":86.2},{"s":"P","t":53.46,"v":91.1},{"s":"P","t":53.73,"v":92.8},{"s":"P","t":53.99,"v":91.8},{"s":"P","t":54.25,"v":87.6},{"s":"P","t":54.52,"v":80.7},{"s":"P","t":54.78,"v":73.7},{"s":"P","t":55.04,"v":68.2},{"s":"P","t":55.31,"v":64},{"s":"P","t":55.57,"v":61.2},{"s":"P","t":55.83,"v":59.8},{"s":"P","t":56.1,"v":58.4},{"s":"P","t":56.36,"v":57},{"s":"P","t":56.62,"v":59.8},{"s":"P","t":56.89,"v":62.6},{"s":"P","t":57.15,"v":58.4},{"s":"P","t":57.41,"v":57},{"s":"P","t":57.68,"v":65.4},{"s":"P","t":57.94,"v":64},{"s":"P","t":58.2,"v":62.6},{"s":"P","t":58.47,"v":65.4},{"s":"P","t":58.73,"v":61.2},{"s":"P","t":58.99,"v":62.6},{"s":"P","t":59.26,"v":59.8},{"s":"P","t":59.52,"v":64},{"s":"P","t":60.04,"v":64},{"s":"P","t":60.31,"v":58.4},{"s":"P","t":60.57,"v":59.8},{"s":"P","t":60.84,"v":57},{"s":"P","t":61.1,"v":59.8},{"s":"P","t":61.36,"v":57},{"s":"P","t":61.62,"v":52.9},{"s":"P","t":61.88,"v":51.5},{"s":"P","t":62.15,"v":56.3},{"s":"P","t":62.41,"v":41.7},{"s":"P","t":62.54,"v":52.9},{"s":"P","t":62.67,"v":67.5},
{"s":"R2","t":0.13,"v":68.2},{"s":"R2","t":0.26,"v":59.8},{"s":"R2","t":0.52,"v":59.1},{"s":"R2","t":1.05,"v":61.9},{"s":"R2","t":1.31,"v":65.4},{"s":"R2","t":1.58,"v":67.5},{"s":"R2","t":2.1,"v":69.6},{"s":"R2","t":2.63,"v":72.3},{"s":"R2","t":2.89,"v":73.7},{"s":"R2","t":3.15,"v":71.6},{"s":"R2","t":3.42,"v":69.6},{"s":"R2","t":3.68,"v":68.2},{"s":"R2","t":3.94,"v":70.9},{"s":"R2","t":4.21,"v":73.7},{"s":"R2","t":4.47,"v":72.3},{"s":"R2","t":4.73,"v":68.2},{"s":"R2","t":5.0,"v":62.6},{"s":"R2","t":5.26,"v":59.8},{"s":"R2","t":5.52,"v":58.4},{"s":"R2","t":5.79,"v":55.6},{"s":"R2","t":6.05,"v":54.3},{"s":"R2","t":6.31,"v":51.5},{"s":"R2","t":6.58,"v":50.1},{"s":"R2","t":6.84,"v":48.7},{"s":"R2","t":7.1,"v":45.9},{"s":"R2","t":7.24,"v":43.8},{"s":"R2","t":7.37,"v":48.7},{"s":"R2","t":7.63,"v":57},{"s":"R2","t":7.89,"v":59.8},{"s":"R2","t":8.15,"v":61.2},{"s":"R2","t":8.42,"v":62.6},{"s":"R2","t":8.68,"v":61.9},{"s":"R2","t":8.94,"v":59.8},{"s":"R2","t":9.21,"v":57},{"s":"R2","t":9.47,"v":58.4},{"s":"R2","t":9.73,"v":62.6},{"s":"R2","t":10.0,"v":64},{"s":"R2","t":10.26,"v":65.4},{"s":"R2","t":10.52,"v":64},{"s":"R2","t":10.79,"v":65.4},{"s":"R2","t":11.05,"v":66.8},{"s":"R2","t":11.31,"v":61.2},{"s":"R2","t":11.57,"v":56.3},{"s":"R2","t":11.84,"v":61.2},{"s":"R2","t":12.1,"v":66.8},{"s":"R2","t":12.36,"v":71.1},{"s":"R2","t":12.63,"v":69.6},{"s":"R2","t":12.89,"v":68.2},{"s":"R2","t":13.3,"v":66.8},{"s":"R2","t":14.09,"v":62.6},{"s":"R2","t":14.62,"v":59.8},{"s":"R2","t":15.14,"v":55.6},{"s":"R2","t":15.54,"v":47.3},{"s":"R2","t":15.93,"v":52.9},{"s":"R2","t":16.46,"v":59.8},{"s":"R2","t":16.72,"v":65.4},{"s":"R2","t":16.98,"v":62.6},{"s":"R2","t":17.25,"v":57},{"s":"R2","t":17.77,"v":50.1},{"s":"R2","t":18.04,"v":52.9},{"s":"R2","t":18.3,"v":62.6},{"s":"R2","t":18.56,"v":72.3},{"s":"R2","t":18.83,"v":77.9},{"s":"R2","t":19.09,"v":80.7},{"s":"R2","t":19.35,"v":82.8},{"s":"R2","t":19.62,"v":83.5},{"s":"R2","t":19.88,"v":80.7},{"s":"R2","t":20.14,"v":79.3},{"s":"R2","t":20.41,"v":82.1},{"s":"R2","t":20.67,"v":83.5},{"s":"R2","t":20.93,"v":82.8},{"s":"R2","t":21.2,"v":80.7},{"s":"R2","t":21.46,"v":82.1},{"s":"R2","t":21.72,"v":80.7},{"s":"R2","t":21.98,"v":81.4},{"s":"R2","t":22.25,"v":83.5},{"s":"R2","t":22.51,"v":84.8},{"s":"R2","t":22.77,"v":86.2},{"s":"R2","t":23.04,"v":86.9},{"s":"R2","t":23.3,"v":82.1},{"s":"R2","t":23.56,"v":75.1},{"s":"R2","t":23.83,"v":70.2},{"s":"R2","t":24.09,"v":66.8},{"s":"R2","t":24.35,"v":64},{"s":"R2","t":24.62,"v":62.6},{"s":"R2","t":25.14,"v":61.2},{"s":"R2","t":25.41,"v":59.8},{"s":"R2","t":25.67,"v":58.4},{"s":"R2","t":25.94,"v":59.8},{"s":"R2","t":26.08,"v":57},{"s":"R2","t":26.34,"v":52.9},{"s":"R2","t":26.6,"v":50.1},{"s":"R2","t":26.87,"v":52.9},{"s":"R2","t":27.13,"v":58.4},{"s":"R2","t":27.39,"v":59.8},{"s":"R2","t":27.66,"v":57},{"s":"R2","t":27.92,"v":62.6},{"s":"R2","t":28.18,"v":70.9},{"s":"R2","t":28.45,"v":76.5},{"s":"R2","t":28.71,"v":80.7},{"s":"R2","t":28.97,"v":83.5},{"s":"R2","t":29.23,"v":85.5},{"s":"R2","t":29.5,"v":86.2},{"s":"R2","t":29.76,"v":85.5},{"s":"R2","t":30.02,"v":86.9},{"s":"R2","t":30.29,"v":86.2},{"s":"R2","t":30.55,"v":86.9},{"s":"R2","t":30.81,"v":86.2},{"s":"R2","t":31.08,"v":84.1},{"s":"R2","t":31.34,"v":82.8},{"s":"R2","t":31.6,"v":81.4},{"s":"R2","t":31.87,"v":84.1},{"s":"R2","t":32.13,"v":86.2},{"s":"R2","t":32.39,"v":86.9},{"s":"R2","t":32.66,"v":84.8},{"s":"R2","t":32.92,"v":82.8},{"s":"R2","t":33.18,"v":77.2},{"s":"R2","t":33.45,"v":72.3},{"s":"R2","t":33.71,"v":68.9},{"s":"R2","t":33.97,"v":66.8},{"s":"R2","t":34.23,"v":68.2},{"s":"R2","t":34.5,"v":64.7},{"s":"R2","t":34.76,"v":62.6},{"s":"R2","t":35.02,"v":64},{"s":"R2","t":35.29,"v":61.2},{"s":"R2","t":35.55,"v":59.8},{"s":"R2","t":35.81,"v":54.3},{"s":"R2","t":36.08,"v":55.6},{"s":"R2","t":36.34,"v":57},{"s":"R2","t":36.6,"v":59.8},{"s":"R2","t":36.87,"v":58.4},{"s":"R2","t":37.13,"v":59.8},{"s":"R2","t":37.39,"v":58.4},{"s":"R2","t":37.66,"v":55.6},{"s":"R2","t":37.92,"v":52.9},{"s":"R2","t":38.18,"v":58.4},{"s":"R2","t":38.45,"v":68.2},{"s":"R2","t":38.71,"v":77.9},{"s":"R2","t":38.97,"v":83.5},{"s":"R2","t":39.11,"v":84.1},{"s":"R2","t":39.63,"v":85.5},{"s":"R2","t":40.16,"v":86.2},{"s":"R2","t":40.95,"v":86.9},{"s":"R2","t":41.21,"v":86.2},{"s":"R2","t":41.48,"v":86.9},{"s":"R2","t":41.74,"v":85.5},{"s":"R2","t":42.0,"v":86.6},{"s":"R2","t":42.26,"v":84.8},{"s":"R2","t":42.53,"v":85.5},{"s":"R2","t":42.79,"v":87.6},{"s":"R2","t":43.05,"v":88.3},{"s":"R2","t":43.32,"v":87.6},{"s":"R2","t":43.58,"v":83.5},{"s":"R2","t":43.85,"v":79.3},{"s":"R2","t":44.11,"v":73.7},{"s":"R2","t":44.37,"v":69.6},{"s":"R2","t":44.64,"v":66.8},{"s":"R2","t":44.9,"v":65.4},{"s":"R2","t":45.16,"v":62.6},{"s":"R2","t":45.42,"v":59.8},{"s":"R2","t":45.69,"v":61.2},{"s":"R2","t":45.95,"v":59.8},{"s":"R2","t":46.21,"v":57},{"s":"R2","t":46.48,"v":55.6},{"s":"R2","t":46.74,"v":54.3},{"s":"R2","t":47.0,"v":55.6},{"s":"R2","t":47.27,"v":57},{"s":"R2","t":47.53,"v":54.3},{"s":"R2","t":47.79,"v":55.6},{"s":"R2","t":48.05,"v":57},{"s":"R2","t":48.32,"v":54.3},{"s":"R2","t":48.58,"v":57},{"s":"R2","t":48.84,"v":64},{"s":"R2","t":49.11,"v":72.3},{"s":"R2","t":49.37,"v":78.6},{"s":"R2","t":49.63,"v":82.1},{"s":"R2","t":49.9,"v":84.1},{"s":"R2","t":50.16,"v":84.8},{"s":"R2","t":50.42,"v":83.5},{"s":"R2","t":50.69,"v":84.1},{"s":"R2","t":50.95,"v":84.8},{"s":"R2","t":51.21,"v":83.5},{"s":"R2","t":51.47,"v":84.1},{"s":"R2","t":51.74,"v":84.8},{"s":"R2","t":52.0,"v":85.5},{"s":"R2","t":52.15,"v":86.2},{"s":"R2","t":52.67,"v":84.8},{"s":"R2","t":52.94,"v":85.5},{"s":"R2","t":53.2,"v":86.9},{"s":"R2","t":53.46,"v":89},{"s":"R2","t":53.73,"v":92.5},{"s":"R2","t":53.99,"v":89},{"s":"R2","t":54.25,"v":82.1},{"s":"R2","t":54.52,"v":75.1},{"s":"R2","t":54.78,"v":69.6},{"s":"R2","t":55.04,"v":62.6},{"s":"R2","t":55.31,"v":55.6},{"s":"R2","t":55.57,"v":54.3},{"s":"R2","t":55.83,"v":52.9},{"s":"R2","t":56.1,"v":50.1},{"s":"R2","t":56.36,"v":50.1},{"s":"R2","t":56.62,"v":57},{"s":"R2","t":56.89,"v":59.8},{"s":"R2","t":57.15,"v":61.2},{"s":"R2","t":57.41,"v":58.4},{"s":"R2","t":57.68,"v":59.8},{"s":"R2","t":57.94,"v":57},{"s":"R2","t":58.2,"v":59.8},{"s":"R2","t":58.47,"v":58.4},{"s":"R2","t":58.73,"v":55.6},{"s":"R2","t":58.99,"v":57},{"s":"R2","t":59.25,"v":59.8},{"s":"R2","t":59.52,"v":58.4},{"s":"R2","t":59.78,"v":57},{"s":"R2","t":60.04,"v":55.6},{"s":"R2","t":60.31,"v":52.9},{"s":"R2","t":60.57,"v":57},{"s":"R2","t":60.83,"v":47.3},{"s":"R2","t":61.1,"v":52.9},{"s":"R2","t":61.36,"v":57},{"s":"R2","t":61.62,"v":52.9},{"s":"R2","t":61.88,"v":54.3},{"s":"R2","t":62.15,"v":51.5},{"s":"R2","t":62.41,"v":52.9},{"s":"R2","t":62.54,"v":59.8},{"s":"R2","t":62.67,"v":65.4},{"s":"R2","t":62.8,"v":70.9},{"s":"R2","t":62.88,"v":41},{"s":"R2","t":62.99,"v":70.9},{"s":"R2","t":63.1,"v":41},{"s":"R2","t":63.2,"v":64},{"s":"R2","t":63.31,"v":41},{"s":"R2","t":63.41,"v":60},{"s":"R2","t":63.52,"v":41}
]},
"layer": [
{"data": {"values": [{}]},
 "mark": {"type": "rule", "color": "#e03a3a", "strokeWidth": 2.5},
 "encoding": {"x": {"datum": -0.25, "type": "quantitative"}, "y": {"datum": 40, "type": "quantitative"}, "y2": {"datum": 100}}},
{"data": {"values": [{}]},
 "mark": {"type": "rule", "color": "#555555", "strokeWidth": 1.2},
 "encoding": {"x": {"datum": -0.05, "type": "quantitative"}, "y": {"datum": 40, "type": "quantitative"}, "y2": {"datum": 100}}},
{"data": {"values": [{}]},
 "mark": {"type": "rule", "color": "#707070", "strokeWidth": 2},
 "encoding": {"x": {"datum": 71.05, "type": "quantitative"}, "y": {"datum": 40, "type": "quantitative"}, "y2": {"datum": 100}}},
{"data": {"name": "hr"},
 "mark": {"type": "line", "strokeWidth": 2, "interpolate": "linear"},
 "encoding": {
  "x": {"field": "t", "type": "quantitative",
   "scale": {"domain": [-0.371, 72.87], "nice": false, "zero": false},
   "axis": {"values": [0, 8, 16, 24, 32, 40, 48, 56, 64],
    "labelExpr": "datum.value < 60 ? (datum.value < 10 ? '00:0' : '00:') + datum.value : '01:0' + (datum.value - 60)",
    "title": null, "offset": -28, "domain": false, "grid": false,
    "tickSize": 5, "tickColor": "#555", "tickWidth": 1,
    "labelPadding": 2, "labelFont": "Liberation Sans", "labelFontSize": 12.5, "labelColor": "#555"}},
  "y": {"field": "v", "type": "quantitative",
   "scale": {"domain": [34.16, 103.61], "nice": false, "zero": false},
   "axis": {"values": [40, 45, 50, 55, 60, 65, 70, 75, 80, 85, 90, 95, 100],
    "title": "% of HRmax", "titleFont": "Liberation Sans", "titleFontSize": 12.5, "titleFontWeight": "normal", "titleColor": "#333",
    "titleAngle": -90, "titleX": -39.5, "titleY": 16, "titleAlign": "right", "titleBaseline": "middle",
    "domain": false, "grid": true, "gridColor": "#e3e3e3", "gridWidth": 1,
    "tickSize": 5, "tickColor": "#888",
    "labelFont": "Liberation Sans Narrow, Liberation Sans, sans-serif", "labelFontSize": 11.5, "labelColor": "#333", "labelPadding": 8}},
  "color": {"field": "s", "type": "nominal",
   "scale": {"domain": ["G", "B", "Y", "R1", "P", "R2"], "range": ["#22dd33", "#6633ff", "#ffff00", "#dd0000", "#8000c0", "#a80000"]},
   "legend": null}
 }},
{"data": {"values": [{}]},
 "mark": {"type": "rule", "color": "#111111", "strokeWidth": 2},
 "encoding": {"x": {"datum": -0.4, "type": "quantitative"}, "x2": {"datum": 71.8}, "y": {"datum": 40, "type": "quantitative"}}},
{"data": {"values": [{"t": 0, "v": 40.9}, {"t": 62.0, "v": 40.9}]},
 "mark": {"type": "point", "shape": "M-0.55,-0.45L0.55,-0.45A0.45,0.45,0,0,1,0.55,0.45L-0.55,0.45A0.45,0.45,0,0,1,-0.55,-0.45Z", "filled": true, "size": 169, "fill": "#22dd22", "stroke": "#1a7a1a", "strokeWidth": 1, "opacity": 1},
 "encoding": {"x": {"field": "t", "type": "quantitative"}, "y": {"field": "v", "type": "quantitative"}}},
{"data": {"values": [{"t": 71.05, "v": 40.7}]},
 "mark": {"type": "point", "shape": "M-0.55,-0.45L0.55,-0.45A0.45,0.45,0,0,1,0.55,0.45L-0.55,0.45A0.45,0.45,0,0,1,-0.55,-0.45Z", "filled": true, "size": 169, "fill": "#ee0000", "stroke": "#800000", "strokeWidth": 1, "opacity": 1},
 "encoding": {"x": {"field": "t", "type": "quantitative"}, "y": {"field": "v", "type": "quantitative"}}}
]
}
